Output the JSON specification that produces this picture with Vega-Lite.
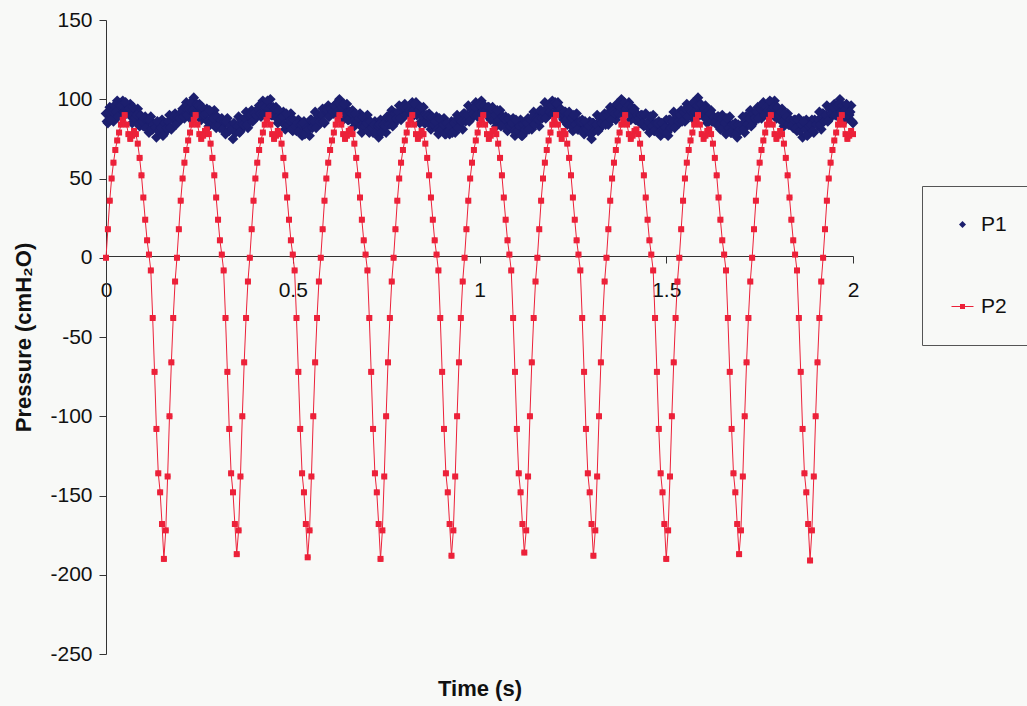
{
"$schema": "https://vega.github.io/schema/vega-lite/v6.json",
"width": 747,
"height": 634,
"autosize": {"type": "none"},
"padding": {"left": 106, "top": 20, "right": 174, "bottom": 52},
"background": "#f8f9f7",
"config": {"view": {"stroke": null}, "font": "Liberation Sans"},
"data": {"values": [
{"t":0,"P1":91,"P2":0},{"t":0.005,"P1":85,"P2":18},{"t":0.01,"P1":95,"P2":36},{"t":0.015,"P1":90,"P2":50},{"t":0.02,"P1":86,"P2":60},{"t":0.025,"P1":95,"P2":68},{"t":0.03,"P1":99,"P2":74},{"t":0.035,"P1":91,"P2":79},{"t":0.04,"P1":94,"P2":84},{"t":0.045,"P1":99,"P2":87},
{"t":0.05,"P1":90,"P2":90},{"t":0.055,"P1":95,"P2":84},{"t":0.06,"P1":91,"P2":78},{"t":0.065,"P1":97,"P2":75},{"t":0.07,"P1":85,"P2":77},{"t":0.075,"P1":93,"P2":80},{"t":0.08,"P1":88,"P2":78},{"t":0.085,"P1":94,"P2":72},{"t":0.09,"P1":83,"P2":63},{"t":0.095,"P1":89,"P2":52},
{"t":0.1,"P1":83,"P2":38},{"t":0.105,"P1":89,"P2":24},{"t":0.11,"P1":85,"P2":11},{"t":0.115,"P1":79,"P2":2},{"t":0.12,"P1":89,"P2":-8},{"t":0.125,"P1":81,"P2":-38},{"t":0.13,"P1":84,"P2":-72},{"t":0.135,"P1":76,"P2":-108},{"t":0.14,"P1":85,"P2":-136},{"t":0.145,"P1":80,"P2":-148},
{"t":0.15,"P1":87,"P2":-168},{"t":0.155,"P1":78,"P2":-190},{"t":0.16,"P1":85,"P2":-172},{"t":0.165,"P1":81,"P2":-138},{"t":0.17,"P1":90,"P2":-100},{"t":0.175,"P1":81,"P2":-66},{"t":0.18,"P1":87,"P2":-38},{"t":0.185,"P1":91,"P2":-15},
{"t":0.19,"P1":86,"P2":0},{"t":0.195,"P1":90,"P2":18},{"t":0.2,"P1":87,"P2":36},{"t":0.205,"P1":94,"P2":50},{"t":0.21,"P1":88,"P2":60},{"t":0.215,"P1":98,"P2":68},{"t":0.22,"P1":92,"P2":74},{"t":0.225,"P1":88,"P2":79},{"t":0.23,"P1":96,"P2":84},{"t":0.235,"P1":101,"P2":87},
{"t":0.24,"P1":92,"P2":90},{"t":0.245,"P1":94,"P2":84},{"t":0.25,"P1":97,"P2":78},{"t":0.255,"P1":87,"P2":75},{"t":0.26,"P1":92,"P2":77},{"t":0.265,"P1":88,"P2":80},{"t":0.27,"P1":94,"P2":81},{"t":0.275,"P1":83,"P2":78},{"t":0.28,"P1":91,"P2":72},{"t":0.285,"P1":86,"P2":63},
{"t":0.29,"P1":93,"P2":52},{"t":0.295,"P1":82,"P2":38},{"t":0.3,"P1":87,"P2":24},{"t":0.305,"P1":82,"P2":11},{"t":0.31,"P1":88,"P2":2},{"t":0.315,"P1":84,"P2":-8},{"t":0.32,"P1":78,"P2":-38},{"t":0.325,"P1":88,"P2":-72},{"t":0.33,"P1":80,"P2":-108},{"t":0.335,"P1":83,"P2":-136},
{"t":0.34,"P1":75,"P2":-148},{"t":0.345,"P1":84,"P2":-168},{"t":0.35,"P1":81,"P2":-187},{"t":0.355,"P1":89,"P2":-172},{"t":0.36,"P1":80,"P2":-138},{"t":0.365,"P1":87,"P2":-100},{"t":0.37,"P1":83,"P2":-66},{"t":0.375,"P1":92,"P2":-38},{"t":0.38,"P1":82,"P2":-15},
{"t":0.385,"P1":88,"P2":0},{"t":0.39,"P1":93,"P2":18},{"t":0.395,"P1":88,"P2":36},{"t":0.4,"P1":92,"P2":50},{"t":0.405,"P1":89,"P2":60},{"t":0.41,"P1":96,"P2":68},{"t":0.415,"P1":89,"P2":74},{"t":0.42,"P1":99,"P2":79},{"t":0.425,"P1":93,"P2":84},{"t":0.43,"P1":89,"P2":87},
{"t":0.435,"P1":97,"P2":90},{"t":0.44,"P1":100,"P2":84},{"t":0.445,"P1":90,"P2":78},{"t":0.45,"P1":92,"P2":75},{"t":0.455,"P1":95,"P2":77},{"t":0.46,"P1":85,"P2":80},{"t":0.465,"P1":90,"P2":78},{"t":0.47,"P1":86,"P2":72},{"t":0.475,"P1":92,"P2":63},{"t":0.48,"P1":81,"P2":52},
{"t":0.485,"P1":89,"P2":38},{"t":0.49,"P1":84,"P2":24},{"t":0.495,"P1":91,"P2":11},{"t":0.5,"P1":80,"P2":2},{"t":0.505,"P1":86,"P2":-8},{"t":0.51,"P1":80,"P2":-38},{"t":0.515,"P1":87,"P2":-72},{"t":0.52,"P1":82,"P2":-108},{"t":0.525,"P1":77,"P2":-136},{"t":0.53,"P1":86,"P2":-148},
{"t":0.535,"P1":79,"P2":-168},{"t":0.54,"P1":83,"P2":-189},{"t":0.545,"P1":77,"P2":-172},{"t":0.55,"P1":87,"P2":-138},{"t":0.555,"P1":84,"P2":-100},{"t":0.56,"P1":92,"P2":-66},{"t":0.565,"P1":83,"P2":-38},{"t":0.57,"P1":89,"P2":-15},
{"t":0.575,"P1":85,"P2":0},{"t":0.58,"P1":94,"P2":18},{"t":0.585,"P1":85,"P2":36},{"t":0.59,"P1":91,"P2":50},{"t":0.595,"P1":96,"P2":60},{"t":0.6,"P1":91,"P2":68},{"t":0.605,"P1":94,"P2":74},{"t":0.61,"P1":91,"P2":79},{"t":0.615,"P1":97,"P2":84},{"t":0.62,"P1":91,"P2":87},
{"t":0.625,"P1":100,"P2":90},{"t":0.63,"P1":93,"P2":84},{"t":0.635,"P1":87,"P2":78},{"t":0.64,"P1":94,"P2":75},{"t":0.645,"P1":97,"P2":77},{"t":0.65,"P1":87,"P2":80},{"t":0.655,"P1":89,"P2":81},{"t":0.66,"P1":93,"P2":78},{"t":0.665,"P1":83,"P2":72},{"t":0.67,"P1":88,"P2":63},
{"t":0.675,"P1":85,"P2":52},{"t":0.68,"P1":91,"P2":38},{"t":0.685,"P1":79,"P2":24},{"t":0.69,"P1":88,"P2":11},{"t":0.695,"P1":83,"P2":2},{"t":0.7,"P1":90,"P2":-8},{"t":0.705,"P1":79,"P2":-38},{"t":0.71,"P1":85,"P2":-72},{"t":0.715,"P1":79,"P2":-108},{"t":0.72,"P1":86,"P2":-136},
{"t":0.725,"P1":81,"P2":-148},{"t":0.73,"P1":76,"P2":-168},{"t":0.735,"P1":87,"P2":-190},{"t":0.74,"P1":81,"P2":-172},{"t":0.745,"P1":85,"P2":-138},{"t":0.75,"P1":79,"P2":-100},{"t":0.755,"P1":89,"P2":-66},{"t":0.76,"P1":86,"P2":-38},{"t":0.765,"P1":93,"P2":-15},
{"t":0.77,"P1":84,"P2":0},{"t":0.775,"P1":91,"P2":18},{"t":0.78,"P1":87,"P2":36},{"t":0.785,"P1":96,"P2":50},{"t":0.79,"P1":87,"P2":60},{"t":0.795,"P1":93,"P2":68},{"t":0.8,"P1":97,"P2":74},{"t":0.805,"P1":92,"P2":79},{"t":0.81,"P1":95,"P2":84},{"t":0.815,"P1":92,"P2":87},
{"t":0.82,"P1":98,"P2":90},{"t":0.825,"P1":90,"P2":84},{"t":0.83,"P1":98,"P2":78},{"t":0.835,"P1":91,"P2":75},{"t":0.84,"P1":85,"P2":77},{"t":0.845,"P1":92,"P2":80},{"t":0.85,"P1":95,"P2":78},{"t":0.855,"P1":85,"P2":72},{"t":0.86,"P1":87,"P2":63},{"t":0.865,"P1":91,"P2":52},
{"t":0.87,"P1":81,"P2":38},{"t":0.875,"P1":86,"P2":24},{"t":0.88,"P1":83,"P2":11},{"t":0.885,"P1":89,"P2":2},{"t":0.89,"P1":78,"P2":-8},{"t":0.895,"P1":86,"P2":-38},{"t":0.9,"P1":82,"P2":-72},{"t":0.905,"P1":88,"P2":-108},{"t":0.91,"P1":78,"P2":-136},{"t":0.915,"P1":83,"P2":-148},
{"t":0.92,"P1":78,"P2":-168},{"t":0.925,"P1":86,"P2":-188},{"t":0.93,"P1":83,"P2":-172},{"t":0.935,"P1":79,"P2":-138},{"t":0.94,"P1":90,"P2":-100},{"t":0.945,"P1":84,"P2":-66},{"t":0.95,"P1":88,"P2":-38},{"t":0.955,"P1":81,"P2":-15},
{"t":0.96,"P1":91,"P2":0},{"t":0.965,"P1":88,"P2":18},{"t":0.97,"P1":96,"P2":36},{"t":0.975,"P1":87,"P2":50},{"t":0.98,"P1":94,"P2":60},{"t":0.985,"P1":90,"P2":68},{"t":0.99,"P1":98,"P2":74},{"t":0.995,"P1":89,"P2":79},{"t":1.0,"P1":94,"P2":84},{"t":1.005,"P1":99,"P2":87},
{"t":1.01,"P1":93,"P2":90},{"t":1.015,"P1":95,"P2":84},{"t":1.02,"P1":90,"P2":78},{"t":1.025,"P1":95,"P2":75},{"t":1.03,"P1":87,"P2":77},{"t":1.035,"P1":95,"P2":80},{"t":1.04,"P1":88,"P2":81},{"t":1.045,"P1":83,"P2":78},{"t":1.05,"P1":90,"P2":72},{"t":1.055,"P1":93,"P2":63},
{"t":1.06,"P1":84,"P2":52},{"t":1.065,"P1":86,"P2":38},{"t":1.07,"P1":89,"P2":24},{"t":1.075,"P1":80,"P2":11},{"t":1.08,"P1":85,"P2":2},{"t":1.085,"P1":82,"P2":-8},{"t":1.09,"P1":88,"P2":-38},{"t":1.095,"P1":77,"P2":-72},{"t":1.1,"P1":85,"P2":-108},{"t":1.105,"P1":81,"P2":-136},
{"t":1.11,"P1":87,"P2":-148},{"t":1.115,"P1":77,"P2":-168},{"t":1.12,"P1":84,"P2":-186},{"t":1.125,"P1":80,"P2":-172},{"t":1.13,"P1":88,"P2":-138},{"t":1.135,"P1":85,"P2":-100},{"t":1.14,"P1":81,"P2":-66},{"t":1.145,"P1":92,"P2":-38},{"t":1.15,"P1":85,"P2":-15},
{"t":1.155,"P1":89,"P2":0},{"t":1.16,"P1":83,"P2":18},{"t":1.165,"P1":93,"P2":36},{"t":1.17,"P1":90,"P2":50},{"t":1.175,"P1":98,"P2":60},{"t":1.18,"P1":89,"P2":68},{"t":1.185,"P1":95,"P2":74},{"t":1.19,"P1":91,"P2":79},{"t":1.195,"P1":99,"P2":84},{"t":1.2,"P1":90,"P2":87},
{"t":1.205,"P1":95,"P2":90},{"t":1.21,"P1":98,"P2":84},{"t":1.215,"P1":91,"P2":78},{"t":1.22,"P1":93,"P2":75},{"t":1.225,"P1":87,"P2":80},{"t":1.23,"P1":92,"P2":78},{"t":1.235,"P1":84,"P2":72},{"t":1.24,"P1":92,"P2":63},{"t":1.245,"P1":86,"P2":52},{"t":1.25,"P1":80,"P2":38},
{"t":1.255,"P1":87,"P2":24},{"t":1.26,"P1":91,"P2":11},{"t":1.265,"P1":81,"P2":2},{"t":1.27,"P1":84,"P2":-8},{"t":1.275,"P1":87,"P2":-38},{"t":1.28,"P1":78,"P2":-72},{"t":1.285,"P1":83,"P2":-108},{"t":1.29,"P1":80,"P2":-136},{"t":1.295,"P1":86,"P2":-148},{"t":1.3,"P1":75,"P2":-168},
{"t":1.305,"P1":85,"P2":-188},{"t":1.31,"P1":82,"P2":-172},{"t":1.315,"P1":90,"P2":-138},{"t":1.32,"P1":81,"P2":-100},{"t":1.325,"P1":88,"P2":-66},{"t":1.33,"P1":84,"P2":-38},{"t":1.335,"P1":91,"P2":-15},
{"t":1.34,"P1":88,"P2":0},{"t":1.345,"P1":84,"P2":18},{"t":1.35,"P1":95,"P2":36},{"t":1.355,"P1":89,"P2":50},{"t":1.36,"P1":93,"P2":60},{"t":1.365,"P1":87,"P2":68},{"t":1.37,"P1":96,"P2":74},{"t":1.375,"P1":93,"P2":79},{"t":1.38,"P1":100,"P2":84},{"t":1.385,"P1":91,"P2":87},
{"t":1.39,"P1":97,"P2":90},{"t":1.395,"P1":91,"P2":84},{"t":1.4,"P1":98,"P2":78},{"t":1.405,"P1":87,"P2":75},{"t":1.41,"P1":91,"P2":77},{"t":1.415,"P1":94,"P2":80},{"t":1.42,"P1":87,"P2":81},{"t":1.425,"P1":90,"P2":78},{"t":1.43,"P1":85,"P2":72},{"t":1.435,"P1":90,"P2":63},
{"t":1.44,"P1":83,"P2":52},{"t":1.445,"P1":91,"P2":38},{"t":1.45,"P1":84,"P2":24},{"t":1.455,"P1":79,"P2":11},{"t":1.46,"P1":86,"P2":2},{"t":1.465,"P1":90,"P2":-8},{"t":1.47,"P1":80,"P2":-38},{"t":1.475,"P1":83,"P2":-72},{"t":1.48,"P1":86,"P2":-108},{"t":1.485,"P1":77,"P2":-136},
{"t":1.49,"P1":82,"P2":-148},{"t":1.495,"P1":79,"P2":-168},{"t":1.5,"P1":87,"P2":-190},{"t":1.505,"P1":77,"P2":-172},{"t":1.51,"P1":87,"P2":-138},{"t":1.515,"P1":84,"P2":-100},{"t":1.52,"P1":92,"P2":-66},{"t":1.525,"P1":83,"P2":-38},{"t":1.53,"P1":89,"P2":-15},
{"t":1.535,"P1":85,"P2":0},{"t":1.54,"P1":93,"P2":18},{"t":1.545,"P1":90,"P2":36},{"t":1.55,"P1":86,"P2":50},{"t":1.555,"P1":97,"P2":60},{"t":1.56,"P1":91,"P2":68},{"t":1.565,"P1":94,"P2":74},{"t":1.57,"P1":88,"P2":79},{"t":1.575,"P1":97,"P2":84},{"t":1.58,"P1":94,"P2":87},
{"t":1.585,"P1":101,"P2":90},{"t":1.59,"P1":90,"P2":84},{"t":1.595,"P1":95,"P2":78},{"t":1.6,"P1":89,"P2":75},{"t":1.605,"P1":96,"P2":77},{"t":1.61,"P1":85,"P2":80},{"t":1.615,"P1":89,"P2":81},{"t":1.62,"P1":93,"P2":78},{"t":1.625,"P1":86,"P2":72},{"t":1.63,"P1":88,"P2":63},
{"t":1.635,"P1":84,"P2":52},{"t":1.64,"P1":89,"P2":38},{"t":1.645,"P1":81,"P2":24},{"t":1.65,"P1":90,"P2":11},{"t":1.655,"P1":83,"P2":2},{"t":1.66,"P1":78,"P2":-8},{"t":1.665,"P1":85,"P2":-38},{"t":1.67,"P1":89,"P2":-72},{"t":1.675,"P1":79,"P2":-108},{"t":1.68,"P1":82,"P2":-136},
{"t":1.685,"P1":85,"P2":-148},{"t":1.69,"P1":76,"P2":-168},{"t":1.695,"P1":83,"P2":-187},{"t":1.7,"P1":81,"P2":-172},{"t":1.705,"P1":89,"P2":-138},{"t":1.71,"P1":79,"P2":-100},{"t":1.715,"P1":89,"P2":-66},{"t":1.72,"P1":86,"P2":-38},{"t":1.725,"P1":93,"P2":-15},
{"t":1.73,"P1":84,"P2":0},{"t":1.735,"P1":91,"P2":18},{"t":1.74,"P1":87,"P2":36},{"t":1.745,"P1":95,"P2":50},{"t":1.75,"P1":92,"P2":60},{"t":1.755,"P1":88,"P2":68},{"t":1.76,"P1":98,"P2":74},{"t":1.765,"P1":92,"P2":79},{"t":1.77,"P1":95,"P2":84},{"t":1.775,"P1":89,"P2":87},
{"t":1.78,"P1":98,"P2":90},{"t":1.785,"P1":93,"P2":84},{"t":1.79,"P1":99,"P2":78},{"t":1.795,"P1":88,"P2":75},{"t":1.8,"P1":93,"P2":77},{"t":1.805,"P1":87,"P2":80},{"t":1.81,"P1":94,"P2":78},{"t":1.815,"P1":83,"P2":72},{"t":1.82,"P1":87,"P2":63},{"t":1.825,"P1":91,"P2":52},
{"t":1.83,"P1":84,"P2":38},{"t":1.835,"P1":86,"P2":24},{"t":1.84,"P1":82,"P2":11},{"t":1.845,"P1":87,"P2":2},{"t":1.85,"P1":80,"P2":-8},{"t":1.855,"P1":88,"P2":-38},{"t":1.86,"P1":82,"P2":-72},{"t":1.865,"P1":76,"P2":-108},{"t":1.87,"P1":84,"P2":-136},{"t":1.875,"P1":87,"P2":-148},
{"t":1.88,"P1":78,"P2":-168},{"t":1.885,"P1":82,"P2":-191},{"t":1.89,"P1":87,"P2":-172},{"t":1.895,"P1":79,"P2":-138},{"t":1.9,"P1":86,"P2":-100},{"t":1.905,"P1":84,"P2":-66},{"t":1.91,"P1":92,"P2":-38},{"t":1.915,"P1":81,"P2":-15},
{"t":1.92,"P1":91,"P2":0},{"t":1.925,"P1":88,"P2":18},{"t":1.93,"P1":96,"P2":36},{"t":1.935,"P1":87,"P2":50},{"t":1.94,"P1":94,"P2":60},{"t":1.945,"P1":90,"P2":68},{"t":1.95,"P1":97,"P2":74},{"t":1.955,"P1":94,"P2":79},{"t":1.96,"P1":89,"P2":84},{"t":1.965,"P1":100,"P2":87},
{"t":1.97,"P1":93,"P2":90},{"t":1.975,"P1":95,"P2":84},{"t":1.98,"P1":87,"P2":78},{"t":1.985,"P1":95,"P2":75},{"t":1.99,"P1":90,"P2":77},{"t":1.995,"P1":96,"P2":80},{"t":2.0,"P1":85,"P2":78},
{"t":0.0025,"P1":86},{"t":0.0075,"P1":92},{"t":0.0125,"P1":87},{"t":0.0175,"P1":92},{"t":0.0225,"P1":96},{"t":0.0275,"P1":92},{"t":0.0325,"P1":89},{"t":0.0375,"P1":96},{"t":0.0425,"P1":96},{"t":0.0475,"P1":92},
{"t":0.0525,"P1":98},{"t":0.0575,"P1":93},{"t":0.0625,"P1":94},{"t":0.0675,"P1":89},{"t":0.0725,"P1":95},{"t":0.0775,"P1":88},{"t":0.0825,"P1":90},{"t":0.0875,"P1":84},{"t":0.0925,"P1":90},{"t":0.0975,"P1":86},
{"t":0.1025,"P1":88},{"t":0.1075,"P1":82},{"t":0.1125,"P1":87},{"t":0.1175,"P1":87},{"t":0.1225,"P1":81},{"t":0.1275,"P1":84},{"t":0.1325,"P1":82},{"t":0.1375,"P1":86},{"t":0.1425,"P1":80},{"t":0.1475,"P1":82},
{"t":0.1525,"P1":77},{"t":0.1575,"P1":85},{"t":0.1625,"P1":82},{"t":0.1675,"P1":86},{"t":0.1725,"P1":82},{"t":0.1775,"P1":89},{"t":0.1825,"P1":89},{"t":0.1875,"P1":84},{"t":0.1925,"P1":89},{"t":0.1975,"P1":88},
{"t":0.2025,"P1":92},{"t":0.2075,"P1":89},{"t":0.2125,"P1":95},{"t":0.2175,"P1":90},{"t":0.2225,"P1":94},{"t":0.2275,"P1":98},{"t":0.2325,"P1":93},{"t":0.2375,"P1":91},{"t":0.2425,"P1":97},{"t":0.2475,"P1":96},
{"t":0.2525,"P1":90},{"t":0.2575,"P1":95},{"t":0.2625,"P1":90},{"t":0.2675,"P1":91},{"t":0.2725,"P1":86},{"t":0.2775,"P1":93},{"t":0.2825,"P1":86},{"t":0.2875,"P1":88},{"t":0.2925,"P1":83},{"t":0.2975,"P1":89},
{"t":0.3025,"P1":84},{"t":0.3075,"P1":87},{"t":0.3125,"P1":81},{"t":0.3175,"P1":86},{"t":0.3225,"P1":86},{"t":0.3275,"P1":80},{"t":0.3325,"P1":83},{"t":0.3375,"P1":81},{"t":0.3425,"P1":85},{"t":0.3475,"P1":79},
{"t":0.3525,"P1":83},{"t":0.3575,"P1":79},{"t":0.3625,"P1":87},{"t":0.3675,"P1":84},{"t":0.3725,"P1":88},{"t":0.3775,"P1":84},{"t":0.3825,"P1":90},{"t":0.3875,"P1":90},{"t":0.3925,"P1":86},{"t":0.3975,"P1":91},
{"t":0.4025,"P1":90},{"t":0.4075,"P1":94},{"t":0.4125,"P1":91},{"t":0.4175,"P1":96},{"t":0.4225,"P1":91},{"t":0.4275,"P1":95},{"t":0.4325,"P1":99},{"t":0.4375,"P1":94},{"t":0.4425,"P1":90},{"t":0.4475,"P1":95},
{"t":0.4525,"P1":94},{"t":0.4575,"P1":88},{"t":0.4625,"P1":93},{"t":0.4675,"P1":88},{"t":0.4725,"P1":89},{"t":0.4775,"P1":84},{"t":0.4825,"P1":91},{"t":0.4875,"P1":84},{"t":0.4925,"P1":86},{"t":0.4975,"P1":81},
{"t":0.5025,"P1":87},{"t":0.5075,"P1":83},{"t":0.5125,"P1":85},{"t":0.5175,"P1":80},{"t":0.5225,"P1":84},{"t":0.5275,"P1":85},{"t":0.5325,"P1":78},{"t":0.5375,"P1":82},{"t":0.5425,"P1":81},{"t":0.5475,"P1":87},
{"t":0.5525,"P1":82},{"t":0.5575,"P1":86},{"t":0.5625,"P1":82},{"t":0.5675,"P1":90},{"t":0.5725,"P1":86},{"t":0.5775,"P1":90},{"t":0.5825,"P1":86},{"t":0.5875,"P1":93},{"t":0.5925,"P1":93},{"t":0.5975,"P1":89},
{"t":0.6025,"P1":94},{"t":0.6075,"P1":92},{"t":0.6125,"P1":96},{"t":0.6175,"P1":92},{"t":0.6225,"P1":98},{"t":0.6275,"P1":92},{"t":0.6325,"P1":95},{"t":0.6375,"P1":97},{"t":0.6425,"P1":91},{"t":0.6475,"P1":87},
{"t":0.6525,"P1":92},{"t":0.6575,"P1":91},{"t":0.6625,"P1":86},{"t":0.6675,"P1":91},{"t":0.6725,"P1":86},{"t":0.6775,"P1":88},{"t":0.6825,"P1":83},{"t":0.6875,"P1":89},{"t":0.6925,"P1":83},{"t":0.6975,"P1":85},
{"t":0.7025,"P1":80},{"t":0.7075,"P1":86},{"t":0.7125,"P1":82},{"t":0.7175,"P1":84},{"t":0.7225,"P1":79},{"t":0.7275,"P1":83},{"t":0.7325,"P1":84},{"t":0.7375,"P1":79},{"t":0.7425,"P1":84},{"t":0.7475,"P1":83},
{"t":0.7525,"P1":89},{"t":0.7575,"P1":84},{"t":0.7625,"P1":88},{"t":0.7675,"P1":83},{"t":0.7725,"P1":91},{"t":0.7775,"P1":88},{"t":0.7825,"P1":92},{"t":0.7875,"P1":88},{"t":0.7925,"P1":95},{"t":0.7975,"P1":95},
{"t":0.8025,"P1":90},{"t":0.8075,"P1":95},{"t":0.8125,"P1":93},{"t":0.8175,"P1":97},{"t":0.8225,"P1":93},{"t":0.8275,"P1":97},{"t":0.8325,"P1":90},{"t":0.8375,"P1":93},{"t":0.8425,"P1":95},{"t":0.8475,"P1":89},
{"t":0.8525,"P1":85},{"t":0.8575,"P1":90},{"t":0.8625,"P1":89},{"t":0.8675,"P1":84},{"t":0.8725,"P1":89},{"t":0.8775,"P1":84},{"t":0.8825,"P1":86},{"t":0.8875,"P1":81},{"t":0.8925,"P1":88},{"t":0.8975,"P1":81},
{"t":0.9025,"P1":84},{"t":0.9075,"P1":78},{"t":0.9125,"P1":85},{"t":0.9175,"P1":80},{"t":0.9225,"P1":83},{"t":0.9275,"P1":79},{"t":0.9325,"P1":85},{"t":0.9375,"P1":87},{"t":0.9425,"P1":82},{"t":0.9475,"P1":87},
{"t":0.9525,"P1":86},{"t":0.9575,"P1":91},{"t":0.9625,"P1":86},{"t":0.9675,"P1":90},{"t":0.9725,"P1":86},{"t":0.9775,"P1":94},{"t":0.9825,"P1":91},{"t":0.9875,"P1":95},{"t":0.9925,"P1":90},{"t":0.9975,"P1":97},
{"t":1.0025,"P1":96},{"t":1.0075,"P1":92},{"t":1.0125,"P1":96},{"t":1.0175,"P1":93},{"t":1.0225,"P1":95},{"t":1.0275,"P1":90},{"t":1.0325,"P1":94},{"t":1.0375,"P1":87},{"t":1.0425,"P1":90},{"t":1.0475,"P1":93},
{"t":1.0525,"P1":87},{"t":1.0575,"P1":83},{"t":1.0625,"P1":89},{"t":1.0675,"P1":88},{"t":1.0725,"P1":82},{"t":1.0775,"P1":88},{"t":1.0825,"P1":83},{"t":1.0875,"P1":85},{"t":1.0925,"P1":80},{"t":1.0975,"P1":87},
{"t":1.1025,"P1":80},{"t":1.1075,"P1":83},{"t":1.1125,"P1":77},{"t":1.1175,"P1":84},{"t":1.1225,"P1":81},{"t":1.1275,"P1":85},{"t":1.1325,"P1":81},{"t":1.1375,"P1":87},{"t":1.1425,"P1":89},{"t":1.1475,"P1":84},
{"t":1.1525,"P1":88},{"t":1.1575,"P1":87},{"t":1.1625,"P1":93},{"t":1.1675,"P1":88},{"t":1.1725,"P1":92},{"t":1.1775,"P1":88},{"t":1.1825,"P1":96},{"t":1.1875,"P1":92},{"t":1.1925,"P1":96},{"t":1.1975,"P1":91},
{"t":1.2025,"P1":98},{"t":1.2075,"P1":97},{"t":1.2125,"P1":91},{"t":1.2175,"P1":94},{"t":1.2225,"P1":91},{"t":1.2275,"P1":92},{"t":1.2325,"P1":87},{"t":1.2375,"P1":91},{"t":1.2425,"P1":84},{"t":1.2475,"P1":88},
{"t":1.2525,"P1":90},{"t":1.2575,"P1":84},{"t":1.2625,"P1":81},{"t":1.2675,"P1":86},{"t":1.2725,"P1":86},{"t":1.2775,"P1":80},{"t":1.2825,"P1":86},{"t":1.2875,"P1":81},{"t":1.2925,"P1":83},{"t":1.2975,"P1":78},
{"t":1.3025,"P1":85},{"t":1.3075,"P1":80},{"t":1.3125,"P1":84},{"t":1.3175,"P1":80},{"t":1.3225,"P1":88},{"t":1.3275,"P1":85},{"t":1.3325,"P1":89},{"t":1.3375,"P1":84},{"t":1.3425,"P1":90},{"t":1.3475,"P1":92},
{"t":1.3525,"P1":87},{"t":1.3575,"P1":92},{"t":1.3625,"P1":91},{"t":1.3675,"P1":97},{"t":1.3725,"P1":91},{"t":1.3775,"P1":95},{"t":1.3825,"P1":90},{"t":1.3875,"P1":98},{"t":1.3925,"P1":94},{"t":1.3975,"P1":96},
{"t":1.4025,"P1":90},{"t":1.4075,"P1":95},{"t":1.4125,"P1":93},{"t":1.4175,"P1":87},{"t":1.4225,"P1":90},{"t":1.4275,"P1":88},{"t":1.4325,"P1":90},{"t":1.4375,"P1":85},{"t":1.4425,"P1":90},{"t":1.4475,"P1":83},
{"t":1.4525,"P1":86},{"t":1.4575,"P1":89},{"t":1.4625,"P1":83},{"t":1.4675,"P1":80},{"t":1.4725,"P1":85},{"t":1.4775,"P1":85},{"t":1.4825,"P1":79},{"t":1.4875,"P1":85},{"t":1.4925,"P1":80},{"t":1.4975,"P1":82},
{"t":1.5025,"P1":79},{"t":1.5075,"P1":87},{"t":1.5125,"P1":82},{"t":1.5175,"P1":86},{"t":1.5225,"P1":82},{"t":1.5275,"P1":90},{"t":1.5325,"P1":86},{"t":1.5375,"P1":90},{"t":1.5425,"P1":86},{"t":1.5475,"P1":92},
{"t":1.5525,"P1":94},{"t":1.5575,"P1":89},{"t":1.5625,"P1":94},{"t":1.5675,"P1":92},{"t":1.5725,"P1":98},{"t":1.5775,"P1":92},{"t":1.5825,"P1":96},{"t":1.5875,"P1":91},{"t":1.5925,"P1":97},{"t":1.5975,"P1":92},
{"t":1.6025,"P1":94},{"t":1.6075,"P1":88},{"t":1.6125,"P1":93},{"t":1.6175,"P1":91},{"t":1.6225,"P1":86},{"t":1.6275,"P1":89},{"t":1.6325,"P1":86},{"t":1.6375,"P1":89},{"t":1.6425,"P1":84},{"t":1.6475,"P1":88},
{"t":1.6525,"P1":82},{"t":1.6575,"P1":85},{"t":1.6625,"P1":88},{"t":1.6675,"P1":82},{"t":1.6725,"P1":79},{"t":1.6775,"P1":84},{"t":1.6825,"P1":84},{"t":1.6875,"P1":78},{"t":1.6925,"P1":84},{"t":1.6975,"P1":81},
{"t":1.7025,"P1":84},{"t":1.7075,"P1":81},{"t":1.7125,"P1":89},{"t":1.7175,"P1":84},{"t":1.7225,"P1":88},{"t":1.7275,"P1":83},{"t":1.7325,"P1":91},{"t":1.7375,"P1":88},{"t":1.7425,"P1":92},{"t":1.7475,"P1":88},
{"t":1.7525,"P1":94},{"t":1.7575,"P1":96},{"t":1.7625,"P1":90},{"t":1.7675,"P1":95},{"t":1.7725,"P1":93},{"t":1.7775,"P1":99},{"t":1.7825,"P1":93},{"t":1.7875,"P1":95},{"t":1.7925,"P1":89},{"t":1.7975,"P1":95},
{"t":1.8025,"P1":90},{"t":1.8075,"P1":92},{"t":1.8125,"P1":86},{"t":1.8175,"P1":91},{"t":1.8225,"P1":89},{"t":1.8275,"P1":84},{"t":1.8325,"P1":87},{"t":1.8375,"P1":84},{"t":1.8425,"P1":87},{"t":1.8475,"P1":82},
{"t":1.8525,"P1":87},{"t":1.8575,"P1":80},{"t":1.8625,"P1":84},{"t":1.8675,"P1":86},{"t":1.8725,"P1":81},{"t":1.8775,"P1":77},{"t":1.8825,"P1":83},{"t":1.8875,"P1":84},{"t":1.8925,"P1":80},{"t":1.8975,"P1":87},
{"t":1.9025,"P1":84},{"t":1.9075,"P1":87},{"t":1.9125,"P1":84},{"t":1.9175,"P1":91},{"t":1.9225,"P1":86},{"t":1.9275,"P1":90},{"t":1.9325,"P1":86},{"t":1.9375,"P1":94},{"t":1.9425,"P1":91},{"t":1.9475,"P1":95},
{"t":1.9525,"P1":90},{"t":1.9575,"P1":96},{"t":1.9625,"P1":97},{"t":1.9675,"P1":92},{"t":1.9725,"P1":96},{"t":1.9775,"P1":93},{"t":1.9825,"P1":97},{"t":1.9875,"P1":90},{"t":1.9925,"P1":92},{"t":1.9975,"P1":86}
]},
"transform": [{"fold": ["P1", "P2"], "as": ["series", "p"]}, {"filter": "isValid(datum.p)"}],
"encoding": {
  "x": {"field": "t", "type": "quantitative", "scale": {"domain": [0, 2], "nice": false, "zero": false},
        "axis": {"values": [0, 0.5, 1, 1.5, 2], "format": "~g", "offset": -398, "grid": false, "domainColor": "#333", "tickColor": "#333", "tickSize": 7, "labelFontSize": 21, "labelColor": "#111", "labelPadding": 16, "labelFlush": false, "labelOverlap": false, "title": "Time (s)", "titleFontSize": 22, "titleFontWeight": "bold", "titleColor": "#111", "titleY": 422, "titleBaseline": "top"}},
  "y": {"field": "p", "type": "quantitative", "scale": {"domain": [-250, 150], "nice": false},
        "axis": {"values": [-250, -200, -150, -100, -50, 0, 50, 100, 150], "labelExpr": "'' + datum.value", "grid": false, "domainColor": "#333", "tickColor": "#333", "tickSize": 7, "labelFontSize": 21, "labelColor": "#111", "labelPadding": 7, "title": "Pressure (cmH₂O)", "titleFontSize": 22, "titleFontWeight": "bold", "titleColor": "#111", "titlePadding": 14}},
  "color": {"field": "series", "type": "nominal", "scale": {"domain": ["P1", "P2"], "range": ["#1c1f6e", "#ec2139"]},
     "legend": {"title": null, "orient": "none", "legendX": 816, "legendY": 166, "padding": 28, "rowPadding": 60, "labelFontSize": 21, "labelColor": "#111", "labelOffset": 8, "symbolSize": 100, "symbolOffset": 2, "strokeColor": "#555", "fillColor": "#f8f9f7"}},
  "shape": {"field": "series", "type": "nominal", "scale": {"domain": ["P1", "P2"], "range": ["M0,-0.7L0.7,0L0,0.7L-0.7,0Z", "M-2.2,-0.1L-0.5,-0.1L-0.5,-0.5L0.5,-0.5L0.5,-0.1L2.2,-0.1L2.2,0.1L0.5,0.1L0.5,0.5L-0.5,0.5L-0.5,0.1L-2.2,0.1Z"]}}
},
"layer": [
  {"transform": [{"filter": "datum.series === 'P1'"}],
   "mark": {"type": "point", "filled": true, "size": 235, "opacity": 1}},
  {"transform": [{"filter": "datum.series === 'P2'"}],
   "mark": {"type": "line", "strokeWidth": 1},
   "encoding": {"color": {"value": "#ec2139"}, "shape": {"value": "circle"}}},
  {"transform": [{"filter": "datum.series === 'P2'"}],
   "mark": {"type": "point", "filled": true, "size": 36, "opacity": 1},
   "encoding": {"shape": {"value": "square"}}}
]
}
